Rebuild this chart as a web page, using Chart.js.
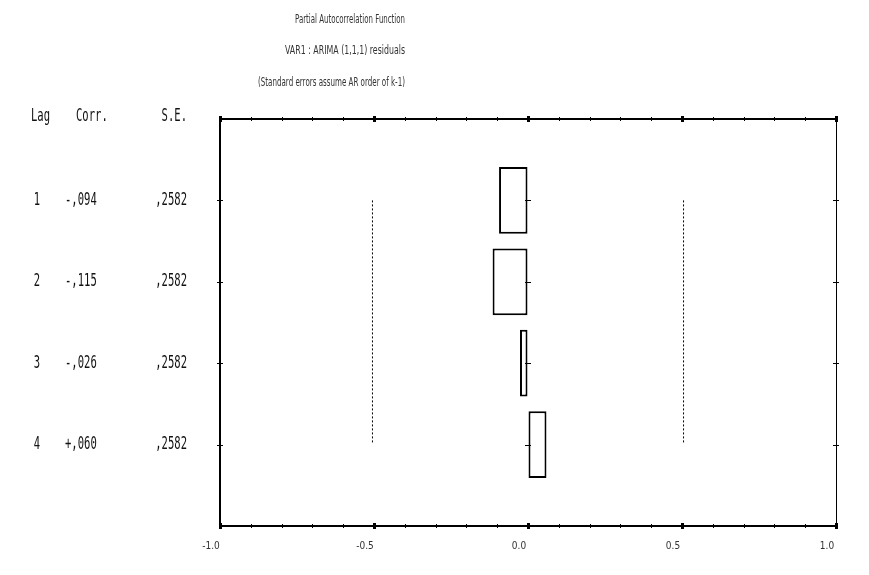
<!DOCTYPE html>
<html>
<head>
<meta charset="utf-8">
<script src="https://cdn.jsdelivr.net/npm/chart.js@4/dist/chart.umd.min.js"></script>
<style>
  html, body { margin: 0; padding: 0; background: #fff; }
  #wrap { width: 869px; height: 575px; }
</style>
</head>
<body>
<div id="wrap"><canvas id="pacf"></canvas></div>
<script>
// values
const lags = [1, 2, 3, 4];
const corr = [-0.094, -0.115, -0.026, 0.060];
const corrText = ['-,094', '-,115', '-,026', '+,060'];
const seText = [',2582', ',2582', ',2582', ',2582'];
const confLimit = [-0.505, 0.505];   // dashed limits
const xTickLabels = ['-1.0', '-0.5', '0.0', '0.5', '1.0'];
const titleLines = [
  'Partial Autocorrelation Function',
  'VAR1 : ARIMA (1,1,1) residuals',
  '(Standard errors assume AR order of k-1)'
];

const MONO = '17px "DejaVu Sans Mono"';

// draw text squeezed horizontally
function squeezed(ctx, text, x, y, sx, align) {
  ctx.save();
  ctx.translate(x, y);
  ctx.scale(sx, 1);
  ctx.textAlign = align;
  ctx.fillText(text, 0, 0);
  ctx.restore();
}

const decorations = {
  id: 'decorations',
  afterDatasetsDraw(chart) {
    const ctx = chart.ctx;
    const xs = chart.scales.x;
    const ys = chart.scales.y;
    const area = chart.chartArea;

    ctx.save();
    ctx.strokeStyle = '#000';
    ctx.fillStyle = '#000';

    // minor / major ticks on top and bottom axes
    for (let i = 0; i <= 20; i++) {
      const v = -1 + i * 0.1;
      const px = Math.round(xs.getPixelForValue(v)) + 0.5;
      const major = i % 5 === 0;
      ctx.lineWidth = major ? 3 : 1;
      const h = major ? 3 : 2;
      [area.top, area.bottom].forEach(py => {
        ctx.beginPath();
        ctx.moveTo(px, py - h);
        ctx.lineTo(px, py + h);
        ctx.stroke();
      });
    }

    // lag ticks on left, right and at zero line
    ctx.lineWidth = 1;
    lags.forEach(l => {
      const py = Math.round(ys.getPixelForValue(l)) + 0.5;
      [area.left, area.right, xs.getPixelForValue(0)].forEach(px => {
        ctx.beginPath();
        ctx.moveTo(px - 3, py);
        ctx.lineTo(px + 3, py);
        ctx.stroke();
      });
    });
    ctx.restore();

    // left table
    ctx.save();
    ctx.fillStyle = '#111';
    ctx.font = MONO;
    ctx.textBaseline = 'middle';
    const head = ys.getPixelForValue(0) - 2;
    squeezed(ctx, 'Lag', 31, head, 0.62, 'left');
    squeezed(ctx, 'Corr.', 76, head, 0.62, 'left');
    squeezed(ctx, 'S.E.', 187, head, 0.62, 'right');
    lags.forEach((l, i) => {
      const py = ys.getPixelForValue(l);
      squeezed(ctx, String(l), 37, py, 0.62, 'center');
      squeezed(ctx, corrText[i], 65, py, 0.62, 'left');
      squeezed(ctx, seText[i], 187, py, 0.62, 'right');
    });
    ctx.restore();

    // titles (right aligned, very condensed)
    ctx.save();
    ctx.fillStyle = '#333';
    ctx.font = '12px "DejaVu Sans"';
    ctx.textBaseline = 'middle';
    const titleY = [20, 51, 83];
    const titleW = [110, 120, 147];
    titleLines.forEach((t, i) => {
      const w = ctx.measureText(t).width;
      squeezed(ctx, t, 405, titleY[i], titleW[i] / w, 'right');
    });
    ctx.restore();
  }
};

const datasets = [
  {
    type: 'bar',
    data: lags.map((l, i) => ({ x: corr[i], y: l })),
    backgroundColor: '#fff',
    borderColor: '#000',
    borderWidth: 2,
    borderSkipped: false,
    categoryPercentage: 1,
    barPercentage: 0.82,
    order: 1
  }
];
confLimit.forEach(c => {
  datasets.push({
    type: 'line',
    data: [{ x: c, y: lags[0] }, { x: c, y: lags[lags.length - 1] }],
    borderColor: '#000',
    borderWidth: 1,
    borderDash: [2, 2],
    pointRadius: 0,
    fill: false,
    order: 2
  });
});

new Chart(document.getElementById('pacf'), {
  type: 'bar',
  data: { datasets },
  options: {
    indexAxis: 'y',
    responsive: true,
    maintainAspectRatio: false,
    animation: false,
    layout: { padding: { left: 220, top: 119, right: 33, bottom: 9 } },
    plugins: { legend: { display: false }, tooltip: { enabled: false } },
    scales: {
      x: {
        type: 'linear',
        min: -1, max: 1,
        grid: { drawOnChartArea: false, drawTicks: false },
        border: { color: '#000', width: 2 },
        ticks: {
          stepSize: 0.5,
          autoSkip: false,
          maxRotation: 0,
          padding: 14,
          labelOffset: -9,
          color: '#333',
          font: { family: 'DejaVu Sans Condensed', size: 10 },
          callback: (v, i) => xTickLabels[i]
        }
      },
      x2: {
        type: 'linear',
        position: 'top',
        min: -1, max: 1,
        grid: { drawOnChartArea: false, drawTicks: false },
        border: { color: '#000', width: 2 },
        ticks: { display: false }
      },
      y: {
        type: 'linear',
        min: 0, max: 5,
        reverse: true,
        offset: false,
        grid: { drawOnChartArea: false, drawTicks: false, offset: false },
        border: { color: '#000', width: 2 },
        ticks: { display: false, stepSize: 1 }
      },
      y2: {
        type: 'linear',
        position: 'right',
        min: 0, max: 5,
        grid: { drawOnChartArea: false, drawTicks: false },
        border: { color: '#000', width: 1 },
        ticks: { display: false }
      }
    }
  },
  plugins: [decorations]
});
</script>
</body>
</html>
